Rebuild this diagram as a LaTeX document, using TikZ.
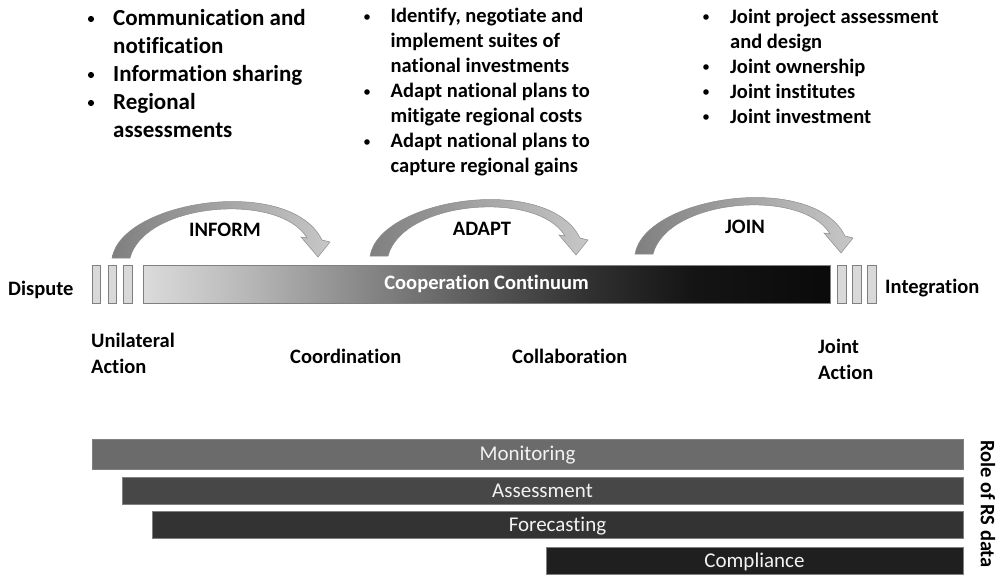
\documentclass[tikz,border=0pt]{standalone}
\usepackage{fontspec}
\setmainfont{Carlito}[Ligatures={NoCommon}]
\pgfdeclarehorizontalshading{contshade}{100bp}{rgb(0bp)=(.86,.86,.86); rgb(25bp)=(.86,.86,.86); rgb(32.5bp)=(.72,.72,.72); rgb(42.5bp)=(.50,.50,.50); rgb(50bp)=(.34,.34,.34); rgb(57.5bp)=(.19,.19,.19); rgb(65bp)=(.08,.08,.08); rgb(75bp)=(.04,.04,.04); rgb(100bp)=(.04,.04,.04)}
\tikzset{
  lbl/.style={font=\fontsize{20.5}{25}\selectfont\bfseries, inner sep=0, anchor=base west},
  lblc/.style={font=\fontsize{20.5}{25}\selectfont\bfseries, inner sep=0, anchor=base},
  biglbl/.style={font=\fontsize{23}{28}\selectfont\bfseries, inner sep=0, anchor=base west},
  bulletdot/.style={fill=black},
  tickbar/.style={draw=black!50, fill=black!15, line width=0.6pt, minimum width=8.5pt, minimum height=38pt, inner sep=0},
  rsbar/.style={draw=black!50, line width=0.6pt, minimum height=27pt, inner sep=0, text=black!5, text height=15pt, text depth=2pt, font=\fontsize{21}{25}\selectfont},
  curvarrow/.style={left color=black!50, right color=black!22, draw=black!45, line width=0.5pt},
}
\begin{document}
\begin{tikzpicture}[x=1pt,y=-1pt]
\useasboundingbox (0,0) rectangle (1001,575);

% ---- top left bullets
\foreach \yy in {19,75,103} \fill[bulletdot] (91,\yy) circle (3.1);
\node[biglbl] (l1) at (113,26) {Communication and};
\node[biglbl] (l2) at (113,54) {notification};
\node[biglbl] (l3) at (113,82) {Information sharing};
\node[biglbl] (l4) at (113,110) {Regional};
\node[biglbl] (l5) at (113,138) {assessments};

% ---- middle bullets
\foreach \yy in {17,92,142} \fill[bulletdot] (367,\yy) circle (2.8);
\node[lbl] (m1) at (390.5,22.5) {Identify, negotiate and};
\node[lbl] (m2) at (390.5,47.5) {implement suites of};
\node[lbl] (m3) at (390.5,72.5) {national investments};
\node[lbl] (m4) at (390.5,97.5) {Adapt national plans to};
\node[lbl] (m5) at (390.5,122.5) {mitigate regional costs};
\node[lbl] (m6) at (390.5,147.5) {Adapt national plans to};
\node[lbl] (m7) at (390.5,172.5) {capture regional gains};

% ---- right bullets
\foreach \yy in {17,67,92,117} \fill[bulletdot] (706,\yy) circle (2.8);
\node[lbl] (r1) at (730,23.5) {Joint project assessment};
\node[lbl] (r2) at (730,48.5) {and design};
\node[lbl] (r3) at (730,73.5) {Joint ownership};
\node[lbl] (r4) at (730,98.5) {Joint institutes};
\node[lbl] (r5) at (730,123.5) {Joint investment};

% ---- curved arrows
\foreach \dx/\dy in {0/0, 258/-2, 523/-4}{
  \begin{scope}[shift={(\dx,\dy)}]
    \path[curvarrow] (112,258) .. controls (122,200) and (290,175) .. (322,240)
      -- (330,242) -- (318,257) -- (301,237) -- (307,238)
      .. controls (280,192) and (145,202) .. (130,258) -- cycle;
  \end{scope}
}
\node[lblc] (inform) at (225,236) {INFORM};
\node[lblc] (adapt) at (482,235) {ADAPT};
\node[lblc] (join) at (745,233) {JOIN};

% ---- continuum bar
\node[lbl] (dispute) at (8,295) {Dispute};
\node[tickbar] (t1) at (96.5,284) {};
\node[tickbar] (t2) at (112.5,284) {};
\node[tickbar] (t3) at (128,284) {};
\node[draw=black!50, line width=0.6pt, shading=contshade, minimum width=687pt, minimum height=38pt, inner sep=0,
      text=white, font=\fontsize{20.5}{25}\selectfont\bfseries] (cont) at (486.5,284) {Cooperation Continuum};
\node[tickbar] (t4) at (842,284) {};
\node[tickbar] (t5) at (857,284) {};
\node[tickbar] (t6) at (872,284) {};
\node[lbl] (integ) at (885,293) {Integration};

% ---- stages
\node[lbl] (ua1) at (91,347) {Unilateral};
\node[lbl] (ua2) at (91,373) {Action};
\node[lbl] (coord) at (290,363) {Coordination};
\node[lbl] (collab) at (512,363) {Collaboration};
\node[lbl] (ja1) at (818,353) {Joint};
\node[lbl] (ja2) at (818,379) {Action};

% ---- RS data bars
\node[rsbar, fill=black!58, minimum width=871pt, minimum height=30pt] (mon) at (527.5,454) {Monitoring};
\node[rsbar, fill=black!72, minimum width=841pt] (ass) at (542.5,491) {Assessment};
\node[rsbar, fill=black!80, minimum width=811pt] (fore) at (557.5,525) {Forecasting};
\node[rsbar, fill=black!88, minimum width=417pt] (comp) at (754.5,561) {Compliance};
\node[font=\fontsize{20.5}{25}\selectfont\bfseries, inner sep=0, rotate=-90] (role) at (988,504) {Role of RS data};
\end{tikzpicture}
\end{document}
